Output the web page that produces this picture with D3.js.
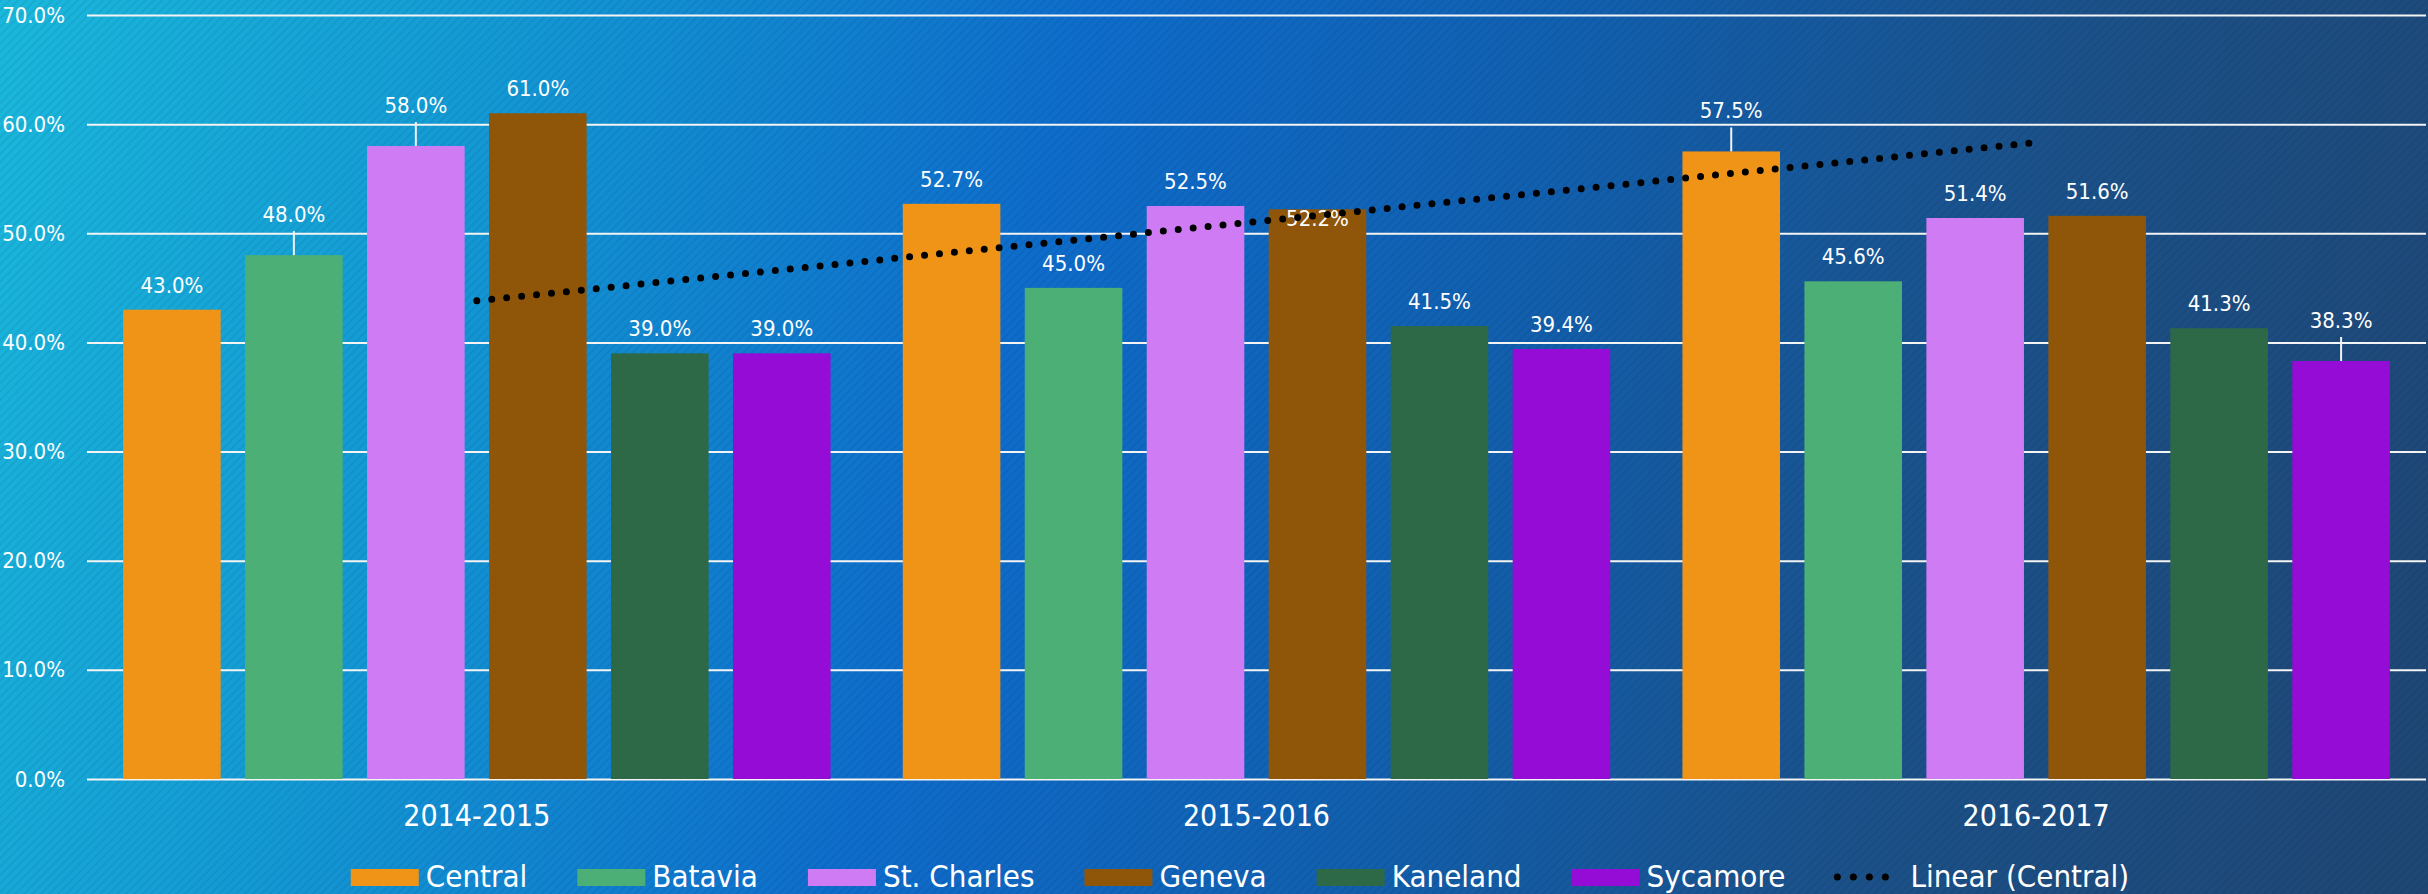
<!DOCTYPE html>
<html>
<head>
<meta charset="utf-8">
<script src="https://cdn.jsdelivr.net/npm/d3@7"></script>
<style>
  html, body { margin: 0; padding: 0; background: #1270c8; }
  svg { display: block; }
  text { font-family: "DejaVu Sans Condensed", "DejaVu Sans", sans-serif; font-stretch: condensed; fill: #ffffff; }
</style>
</head>
<body>
<svg id="chart" width="2428" height="894"></svg>
<script>
// ---------------- data ----------------
const categories = ["2014-2015", "2015-2016", "2016-2017"];
const seriesNames = ["Central", "Batavia", "St. Charles", "Geneva", "Kaneland", "Sycamore"];
const central   = [43.0, 52.7, 57.5];
const batavia   = [48.0, 45.0, 45.6];
const stCharles = [58.0, 52.5, 51.4];
const geneva    = [61.0, 52.2, 51.6];
const kaneland  = [39.0, 41.5, 41.3];
const sycamore  = [39.0, 39.4, 38.3];
const yTicks = [0, 10, 20, 30, 40, 50, 60, 70];
const trendName = "Linear (Central)";
// labels that were moved up with a leader line, and one moved inside its bar
const leaderLabels = [["2014-2015", "Batavia"], ["2014-2015", "St. Charles"], ["2016-2017", "Central"], ["2016-2017", "Sycamore"]];
const insideLabels = [["2015-2016", "Geneva"]];

const seriesValues = [central, batavia, stCharles, geneva, kaneland, sycamore];
const colors = ["#f09418", "#4caf75", "#cf7cf4", "#8f560a", "#2e6947", "#940cd6"];

// ---------------- layout ----------------
const W = 2428, H = 894;
const plotL = 87, plotR = 2426, plotT = 15, plotB = 779;
const svg = d3.select("#chart");

// background
const defs = svg.append("defs");
const grad = defs.append("linearGradient").attr("id", "bg")
  .attr("gradientUnits", "userSpaceOnUse")
  .attr("x1", 0).attr("y1", 0).attr("x2", W).attr("y2", 700);
[[0, "#1ab8dc"], [0.2, "#1398d4"], [0.42, "#0e6ccb"], [0.6, "#1160b0"], [0.8, "#1b5189"], [1, "#1f4776"]]
  .forEach(([o, c]) => grad.append("stop").attr("offset", o).attr("stop-color", c));
const pat = defs.append("pattern").attr("id", "stripes")
  .attr("patternUnits", "userSpaceOnUse").attr("width", 6).attr("height", 6)
  .attr("patternTransform", "rotate(45)");
pat.append("rect").attr("x", 0).attr("y", 0).attr("width", 2).attr("height", 6)
  .attr("fill", "#000").attr("fill-opacity", 0.06);
svg.append("rect").attr("width", W).attr("height", H).attr("fill", "url(#bg)");
svg.append("rect").attr("width", W).attr("height", H).attr("fill", "url(#stripes)");

// scales
const x0 = d3.scaleBand().domain(categories).range([plotL, plotR]).padding(0);
const x1 = d3.scaleBand().domain(seriesNames).range([0, x0.bandwidth()])
  .paddingInner(0.2).paddingOuter(0.296);
const y = d3.scaleLinear().domain([0, 70]).range([plotB, plotT]);
const color = d3.scaleOrdinal().domain(seriesNames).range(colors);

// y axis + gridlines
const yAxis = svg.append("g").attr("transform", `translate(${plotL},0)`)
  .call(d3.axisLeft(y).tickValues(yTicks).tickSize(-(plotR - plotL)).tickPadding(22)
    .tickFormat(d => d.toFixed(1) + "%"));
yAxis.select(".domain").remove();
yAxis.selectAll(".tick line").attr("stroke", "#f4f4f4").attr("stroke-width", 2);
yAxis.selectAll(".tick text").attr("font-size", 22).attr("fill", "#fff")
  .style("font-family", '"DejaVu Sans Condensed", "DejaVu Sans", sans-serif');

// x axis labels
const xAxis = svg.append("g").attr("transform", `translate(0,${plotB})`)
  .call(d3.axisBottom(x0).tickSize(0).tickPadding(26));
xAxis.select(".domain").remove();
xAxis.selectAll(".tick text").attr("font-size", 30).attr("fill", "#fff")
  .style("font-family", '"DejaVu Sans Condensed", "DejaVu Sans", sans-serif');

// bars
const rows = [];
categories.forEach((c, ci) => seriesNames.forEach((s, si) => rows.push({ cat: c, s, v: seriesValues[si][ci] })));
const isIn = (list, d) => list.some(([c, s]) => c === d.cat && s === d.s);

svg.append("g").selectAll("rect").data(rows).join("rect")
  .attr("x", d => x0(d.cat) + x1(d.s))
  .attr("y", d => y(d.v))
  .attr("width", x1.bandwidth())
  .attr("height", d => y(0) - y(d.v))
  .attr("fill", d => color(d.s));

// data labels
const lbl = svg.append("g");
rows.forEach(d => {
  const cx = x0(d.cat) + x1(d.s) + x1.bandwidth() / 2;
  const yt = y(d.v);
  let base = yt - 17;
  if (isIn(leaderLabels, d)) {
    base = yt - 33;
    lbl.append("line").attr("x1", cx).attr("x2", cx).attr("y1", base + 9).attr("y2", yt)
      .attr("stroke", "#f4f4f4").attr("stroke-width", 2);
  } else if (isIn(insideLabels, d)) {
    base = yt + 17;
  }
  lbl.append("text").attr("x", cx).attr("y", base).attr("text-anchor", "middle")
    .attr("font-size", 22).text(d.v.toFixed(1) + "%");
});

// linear trend line for Central (least squares)
const xs = central.map((_, i) => i + 1);
const mx = d3.mean(xs), my = d3.mean(central);
const slope = d3.sum(xs, (xv, i) => (xv - mx) * (central[i] - my)) / d3.sum(xs, xv => (xv - mx) ** 2);
const icpt = my - slope * mx;
const trendPts = categories.map((c, i) => ({ x: x0(c) + x0.bandwidth() / 2, v: icpt + slope * (i + 1) }));
svg.append("path").datum([trendPts[0], trendPts[trendPts.length - 1]])
  .attr("d", d3.line().x(d => d.x).y(d => y(d.v)))
  .attr("fill", "none").attr("stroke", "#000").attr("stroke-width", 7)
  .attr("stroke-linecap", "round").attr("stroke-dasharray", "0 15");

// legend
const legendItems = seriesNames.map(s => ({ name: s, type: "bar" })).concat([{ name: trendName, type: "trend" }]);
const leg = svg.append("g");
const swW = 68, swH = 17, gapText = 7, gapItem = 50, legFont = 31;
const items = legendItems.map(it => {
  const g = leg.append("g");
  const t = g.append("text").attr("x", swW + gapText).attr("y", 887).attr("font-size", legFont).text(it.name);
  const tw = t.node().getComputedTextLength();
  if (it.type === "bar") {
    g.append("rect").attr("x", 0).attr("y", 869).attr("width", swW).attr("height", swH).attr("fill", color(it.name));
  } else {
    g.append("line").attr("x1", 2).attr("x2", 66).attr("y1", 877).attr("y2", 877)
      .attr("stroke", "#000").attr("stroke-width", 7).attr("stroke-linecap", "round").attr("stroke-dasharray", "0 16");
  }
  return { g, w: swW + gapText + tw };
});
const totalW = d3.sum(items, d => d.w) + gapItem * (items.length - 1);
let lx = 1240 - totalW / 2;
items.forEach(it => { it.g.attr("transform", `translate(${lx},0)`); lx += it.w + gapItem; });
</script>
</body>
</html>
